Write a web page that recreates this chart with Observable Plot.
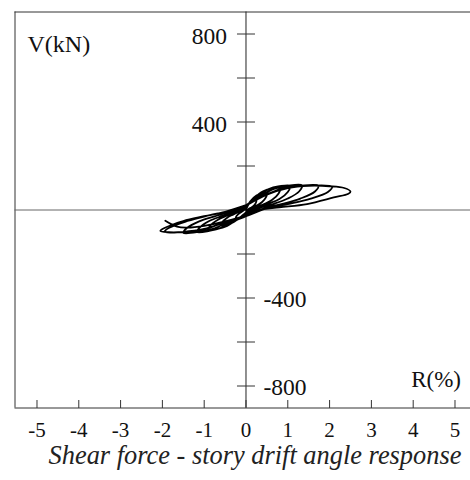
<!DOCTYPE html>
<html>
<head>
<meta charset="utf-8">
<script src="https://cdn.jsdelivr.net/npm/d3@7"></script>
<script src="https://cdn.jsdelivr.net/npm/@observablehq/plot@0.6"></script>
<style>
  html, body { margin: 0; padding: 0; background: #fff; }
  #chart svg { display: block; }
  #title {
    width: 470px; box-sizing: border-box; padding-left: 40px; height: 33px;
    text-align: center; font-family: 'Liberation Serif', Tinos, Times, 'DejaVu Serif', serif;
    font-style: italic; font-size: 26.4px; line-height: 16px; color: #222;
    white-space: nowrap;
  }
</style>
</head>
<body>
<div id="chart"></div>
<div id="title">Shear force - story drift angle response</div>
<script>
// ---- axis settings / labels ----
const xDomain = [-5.526, 5.371];
const yDomain = [-900, 900];
const xTicks = [-5, -4, -3, -2, -1, 0, 1, 2, 3, 4, 5];
const xTickLabels = ["-5", "-4", "-3", "-2", "-1", "0", "1", "2", "3", "4", "5"];
const yTicks = [800, 600, 400, 200, -200, -400, -600, -800];
const yLabelsLeft = [800, 400];
const yLabelsRight = [-400, -800];
const yAxisTitle = "V(kN)";
const xAxisTitle = "R(%)";

// ---- hysteresis cycles: [R (%), V (kN)] ----
const cycle1 = [[0,0],[0.06,25],[0.13,38],[0.19,44],[0.25,45],[0.24,34],[0.19,20],[0.13,11],[0.06,4],[0,-11],[-0.06,-20],[-0.13,-32],[-0.19,-38],[-0.25,-40],[-0.24,-32],[-0.19,-20],[-0.13,-11],[-0.06,-3],[0,8]];
const cycle2 = [[0,8],[0.12,43],[0.25,66],[0.38,76],[0.5,78],[0.48,58],[0.38,35],[0.25,20],[0.12,6],[0,-20],[-0.15,-35],[-0.3,-56],[-0.45,-66],[-0.6,-70],[-0.57,-56],[-0.45,-35],[-0.3,-20],[-0.15,-6],[0,14]];
const cycle3 = [[0,14],[0.2,55],[0.41,85],[0.62,98],[0.82,100],[0.78,75],[0.62,45],[0.41,25],[0.2,8],[0,-25],[-0.22,-45],[-0.45,-72],[-0.68,-86],[-0.9,-90],[-0.86,-72],[-0.68,-45],[-0.45,-25],[-0.22,-7],[0,18]];
const cycle4 = [[0,18],[0.26,60],[0.53,94],[0.8,108],[1.06,110],[1.0,82],[0.8,50],[0.53,28],[0.26,9],[0,-28],[-0.29,-50],[-0.58,-80],[-0.88,-95],[-1.17,-100],[-1.11,-80],[-0.88,-50],[-0.58,-28],[-0.29,-8],[0,20]];
const cycle5 = [[0,20],[0.33,62],[0.67,96],[1.0,110],[1.34,112],[1.27,84],[1.0,52],[0.67,28],[0.33,9],[0,-28],[-0.38,-52],[-0.75,-83],[-1.12,-99],[-1.5,-104],[-1.42,-83],[-1.12,-52],[-0.75,-29],[-0.38,-8],[0,20]];
const cycle6 = [[0,20],[0.43,64],[0.87,98],[1.3,110],[1.73,110],[1.65,84],[1.3,52],[0.87,28],[0.43,8],[0,-28],[-0.5,-55],[-1.0,-88],[-1.5,-100],[-1.85,-101],[-2.05,-95],[-1.95,-82],[-1.5,-50],[-1.0,-28],[-0.5,-8],[0,22]];
const cycle7 = [[0,22],[0.5,70],[1.0,100],[1.5,110],[2.06,106],[1.96,82],[1.55,52],[1.03,28],[0.5,8],[0,-28],[-0.5,-56],[-1.0,-86],[-1.5,-99],[-1.95,-100],[-1.85,-82],[-1.4,-50],[-0.9,-25],[-0.45,-6],[0,22]];
const cycle8 = [[0,22],[0.5,72],[1.0,102],[1.5,110],[2.0,108],[2.35,100],[2.5,84],[2.45,74],[2.1,57],[1.46,27],[0.8,12],[0.3,0],[0,-24],[-0.5,-52],[-1.0,-72],[-1.4,-80],[-1.65,-76],[-1.93,-49]];

const cycles = [cycle1, cycle2, cycle3, cycle4, cycle5, cycle6, cycle7, cycle8];
const path = cycles.flatMap((c, i) => c.map(([R, V]) => ({R, V, cycle: i + 1})));

const serif = "'Liberation Serif', Tinos, Times, 'DejaVu Serif', serif";

// custom tick symbols (pixel-length tick marks)
const hTick = {draw(ctx, size) { const r = Math.sqrt(size / Math.PI); ctx.moveTo(-r, 0); ctx.lineTo(r, 0); }};
const vTickUp = {draw(ctx, size) { const r = Math.sqrt(size / Math.PI); ctx.moveTo(0, 0); ctx.lineTo(0, -r); }};

const chart = Plot.plot({
  width: 470,
  height: 447,
  marginTop: 11.5,
  marginBottom: 39.5,
  marginLeft: 14.5,
  marginRight: 0,
  style: {fontFamily: serif, background: "#fff", color: "#111"},
  x: {domain: xDomain, axis: null},
  y: {domain: yDomain, axis: null},
  marks: [
    // frame (left, top, bottom)
    Plot.ruleX([xDomain[0]], {stroke: "#333", strokeWidth: 1}),
    Plot.ruleY([yDomain[1]], {stroke: "#333", strokeWidth: 1}),
    Plot.ruleY([yDomain[0]], {stroke: "#333", strokeWidth: 1}),
    // zero axes
    Plot.ruleY([0], {stroke: "#666", strokeWidth: 1}),
    Plot.ruleX([0], {stroke: "#222", strokeWidth: 1}),
    // y ticks on the vertical axis
    Plot.dot(yTicks, {x: 0, y: d => d, symbol: hTick, r: 9, stroke: "#333", fill: "none", strokeWidth: 1}),
    // x ticks on the bottom frame
    Plot.dot(xTicks, {x: d => d, y: yDomain[0], symbol: vTickUp, r: 8, stroke: "#333", fill: "none", strokeWidth: 1}),
    // x tick labels
    Plot.text(xTicks, {x: d => d, y: yDomain[0], text: (d, i) => xTickLabels[i], dy: 22, fontSize: 21, fontFamily: serif, textAnchor: "middle", lineAnchor: "middle", fill: "#111"}),
    // y tick labels
    Plot.text(yLabelsLeft, {x: 0, y: d => d, text: d => String(d), textAnchor: "end", lineAnchor: "middle", dx: -19, dy: 2, fontSize: 23.5, fontFamily: serif, fill: "#111"}),
    Plot.text(yLabelsRight, {x: 0, y: d => d, text: d => String(d), textAnchor: "start", lineAnchor: "middle", dx: 17.5, dy: 1, fontSize: 23.5, fontFamily: serif, fill: "#111"}),
    // axis titles
    Plot.text([yAxisTitle], {frameAnchor: "top-left", text: d => d, textAnchor: "start", lineAnchor: "middle", dx: 12.5, dy: 32, fontSize: 24, fontFamily: serif, fill: "#111"}),
    Plot.text([xAxisTitle], {frameAnchor: "bottom-right", text: d => d, textAnchor: "end", lineAnchor: "middle", dx: -9.5, dy: -28.5, fontSize: 23, fontFamily: serif, fill: "#111"}),
    // hysteresis response
    Plot.line(path, {x: "R", y: "V", curve: "catmull-rom", stroke: "#000", strokeWidth: 1.8})
  ]
});
document.getElementById("chart").appendChild(chart);
</script>
</body>
</html>
